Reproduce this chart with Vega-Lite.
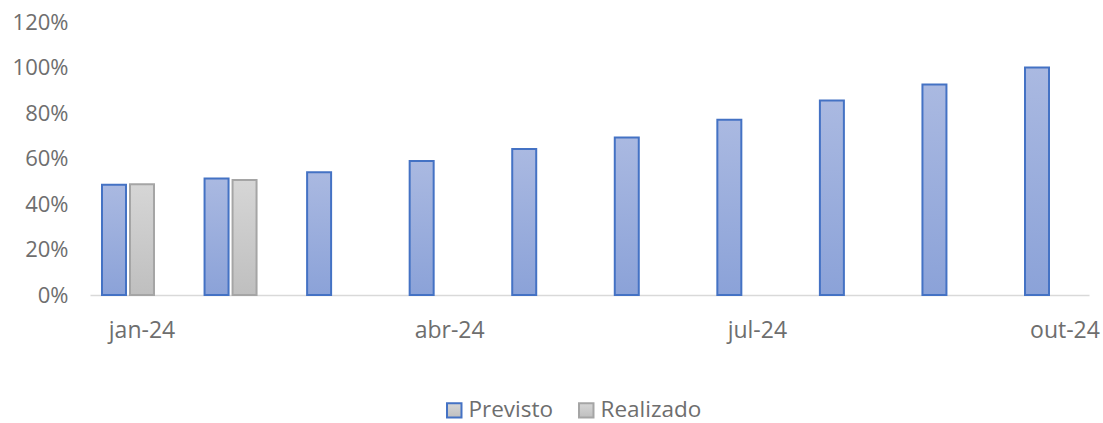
{
  "$schema": "https://vega.github.io/schema/vega-lite/v6.json",
  "width": 999,
  "height": 273,
  "autosize": {"type": "none"},
  "padding": {"left": 90, "top": 22, "right": 14, "bottom": 128},
  "background": "white",
  "data": {
    "values": [
      {"mes": "jan-24", "serie": "Previsto", "valor": 0.485},
      {"mes": "fev-24", "serie": "Previsto", "valor": 0.512},
      {"mes": "mar-24", "serie": "Previsto", "valor": 0.54},
      {"mes": "abr-24", "serie": "Previsto", "valor": 0.589},
      {"mes": "mai-24", "serie": "Previsto", "valor": 0.642},
      {"mes": "jun-24", "serie": "Previsto", "valor": 0.692},
      {"mes": "jul-24", "serie": "Previsto", "valor": 0.77},
      {"mes": "ago-24", "serie": "Previsto", "valor": 0.855},
      {"mes": "set-24", "serie": "Previsto", "valor": 0.925},
      {"mes": "out-24", "serie": "Previsto", "valor": 1.0},
      {"mes": "jan-24", "serie": "Realizado", "valor": 0.487},
      {"mes": "fev-24", "serie": "Realizado", "valor": 0.506}
    ]
  },
  "mark": {"type": "bar", "strokeWidth": 2},
  "encoding": {
    "x": {
      "field": "mes",
      "type": "ordinal",
      "sort": null,
      "scale": {"paddingInner": 0.493, "paddingOuter": 0.117},
      "axis": {
        "title": null,
        "labelAngle": 0,
        "ticks": false,
        "domainColor": "#D9D9D9",
        "domainWidth": 1.5,
        "labelFont": "Open Sans",
        "labelFontSize": 23,
        "labelColor": "#6E6E6E",
        "labelPadding": 24,
        "labelOffset": 14,
        "labelExpr": "indexof(['jan-24','abr-24','jul-24','out-24'], datum.value) >= 0 ? datum.value : ''"
      }
    },
    "xOffset": {
      "field": "serie",
      "type": "nominal",
      "sort": ["Previsto", "Realizado"],
      "scale": {"paddingInner": 0.143, "paddingOuter": 0}
    },
    "y": {
      "field": "valor",
      "type": "quantitative",
      "scale": {"domain": [0, 1.2], "nice": false},
      "axis": {
        "title": null,
        "format": ".0%",
        "values": [0, 0.2, 0.4, 0.6, 0.8, 1.0, 1.2],
        "grid": false,
        "ticks": false,
        "domain": false,
        "labelFont": "Open Sans",
        "labelFontSize": 22,
        "labelColor": "#6E6E6E",
        "labelPadding": 22
      }
    },
    "fill": {
      "condition": {
        "test": "datum.serie === 'Previsto'",
        "value": {
          "gradient": "linear", "x1": 0, "y1": 0, "x2": 0, "y2": 1,
          "stops": [{"offset": 0, "color": "#AAB9E1"}, {"offset": 1, "color": "#8BA2D8"}]
        }
      },
      "value": {
        "gradient": "linear", "x1": 0, "y1": 0, "x2": 0, "y2": 1,
        "stops": [{"offset": 0, "color": "#D6D6D6"}, {"offset": 1, "color": "#BFBFBF"}]
      }
    },
    "stroke": {
      "field": "serie",
      "type": "nominal",
      "scale": {"domain": ["Previsto", "Realizado"], "range": ["#4472C4", "#A5A5A5"]},
      "legend": {
        "title": null,
        "orient": "none",
        "legendX": 353,
        "legendY": 377,
        "direction": "horizontal",
        "symbolType": "square",
        "symbolSize": 210,
        "symbolStrokeWidth": 2,
        "labelFont": "Open Sans",
        "labelFontSize": 22.5,
        "labelColor": "#6E6E6E",
        "labelOffset": 3,
        "columnPadding": 21,
        "encode": {
          "symbols": {
            "update": {
              "fill": {"signal": "datum.value === 'Previsto' ? '#9BAEDD' : '#CACACA'"},
              "fillOpacity": {"value": 1}
            }
          }
        }
      }
    }
  },
  "config": {"view": {"stroke": null}}
}
